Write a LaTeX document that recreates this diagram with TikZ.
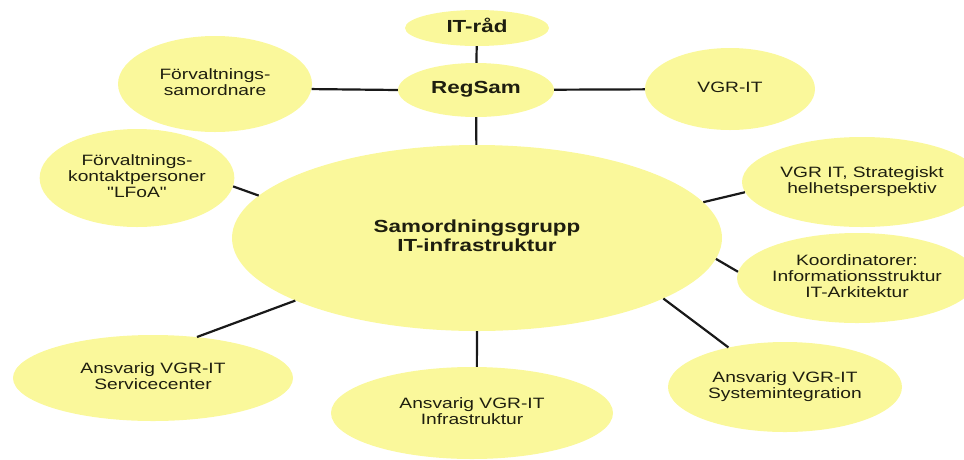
\documentclass[tikz,border=0pt]{standalone}
\usepackage{fontspec}
\setmainfont{Liberation Sans}[Ligatures=TeXOff]
\usepackage{graphicx}
\usetikzlibrary{shapes.geometric}
\definecolor{ellfill}{RGB}{250,248,155}
\definecolor{txt}{RGB}{30,30,15}
\newcommand{\hs}[1]{\scalebox{1.28}[1]{\begin{tabular}{@{}c@{}}#1\end{tabular}}}
\tikzset{
  ell/.style={ellipse, fill=ellfill, draw=none, inner sep=0pt, text=txt,
    font=\fontsize{15}{16}\selectfont},
  bigtxt/.style={font=\bfseries\fontsize{17.5}{19}\selectfont},
  conn/.style={line width=2.2pt, black!90}
}
\begin{document}
\begin{tikzpicture}[x=1pt,y=-1pt]
\useasboundingbox (0,0) rectangle (964,459);
\node[ell, bigtxt, minimum width=144pt, minimum height=36pt] (itr) at (477,28) {\hs{IT-råd}};
\node[ell, bigtxt, minimum width=156pt, minimum height=54pt] (reg) at (476,90) {\hs{RegSam}};
\node[ell, minimum width=194pt, minimum height=96pt] (fs) at (215,84) {\hs{Förvaltnings-\\samordnare}};
\node[ell, minimum width=170pt, minimum height=82pt] (vgr) at (730,89) {\hs{VGR-IT}};
\node[ell, minimum width=192pt, minimum height=98pt] (lfoa) at (137,178) {\hs{Förvaltnings-\\kontaktpersoner\\"LFoA"}};
\node[ell, bigtxt, minimum width=490pt, minimum height=186pt] (sam) at (477,238) {\hs{Samordningsgrupp\\IT-infrastruktur}};
\node[ell, minimum width=240pt, minimum height=90pt] (strat) at (862,182) {\hs{VGR IT, Strategiskt\\helhetsperspektiv}};
\node[ell, minimum width=234pt, minimum height=90pt] (koord) at (857,278) {\hs{Koordinatorer:\\Informationsstruktur\\IT-Arkitektur}};
\node[ell, minimum width=234pt, minimum height=90pt] (sys) at (785,387) {\hs{Ansvarig VGR-IT\\Systemintegration}};
\node[ell, minimum width=282pt, minimum height=92pt] (infra) at (472,413) {\hs{Ansvarig VGR-IT\\Infrastruktur}};
\node[ell, minimum width=280pt, minimum height=86pt] (svc) at (153,378) {\hs{Ansvarig VGR-IT\\Servicecenter}};

\draw[conn] (itr) -- (reg);
\draw[conn] (reg.west) -- (fs.-3);
\draw[conn] (reg) -- (vgr);
\draw[conn] (reg) -- (sam);
\draw[conn] (lfoa.-5) -- (sam.169);
\draw[conn] (strat.-175) -- (sam.9);
\draw[conn] (koord.177) -- (sam.-5);
\draw[conn] (sys.145) -- (sam.-18.5);
\draw[conn] (sam.south) -- (infra.84);
\draw[conn] (svc.43) -- (sam.-161);
\end{tikzpicture}
\end{document}
